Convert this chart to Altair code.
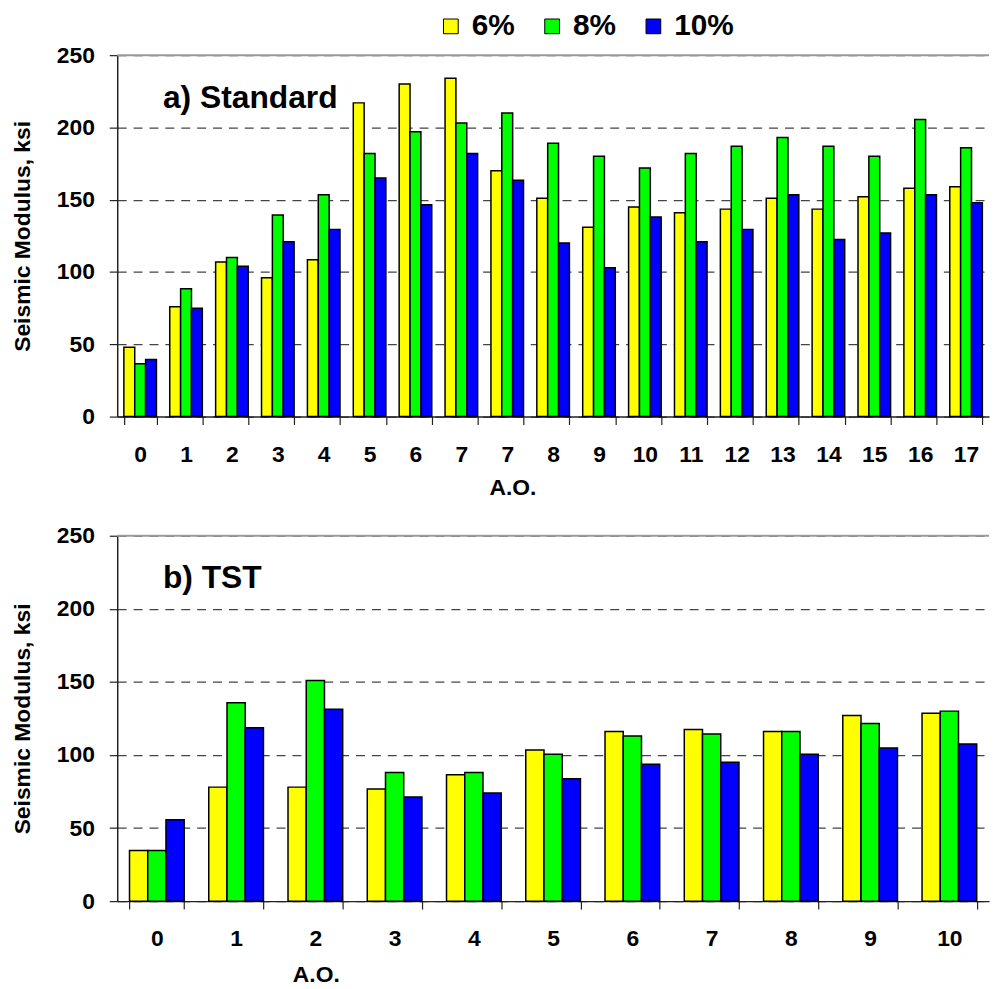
import altair as alt
import pandas as pd

FONT = "Liberation Sans"
series = ["6%", "8%", "10%"]
colors = ["#FFFF00", "#00FF00", "#0000FF"]

cats_top = ["0", "1", "2", "3", "4", "5", "6", "7", "7", "8", "9",
            "10", "11", "12", "13", "14", "15", "16", "17"]
std_6 = [48, 76, 107, 96, 108.5, 217, 230, 234, 170, 151, 131, 145, 141,
         143.5, 151, 143.5, 152, 158, 159]
std_8 = [36.5, 88.5, 110, 139.5, 153.5, 182, 197, 203, 210, 189, 180, 172,
         182, 187, 193, 187, 180, 205.5, 186]
std_10 = [39.5, 75, 104, 121, 129.5, 165, 146.5, 182, 163.5, 120, 103, 138,
          121, 129.5, 153.5, 122.5, 127, 153.5, 148]

cats_bot = ["0", "1", "2", "3", "4", "5", "6", "7", "8", "9", "10"]
tst_6 = [34.7, 78, 78, 76.7, 86.5, 103.4, 116, 117.4, 116, 127, 128.5]
tst_8 = [34.7, 135.8, 151, 88, 88, 100.5, 113, 114.4, 116, 121.5, 130]
tst_10 = [55.7, 118.7, 131.3, 71.2, 74, 83.8, 93.6, 95, 100.5, 104.8, 107.5]

y_ticks = [0, 50, 100, 150, 200, 250]


def make_df(cats, s6, s8, s10):
    rows = []
    for i, c in enumerate(cats):
        key = f"{c}_{i}"
        for s, vals in zip(series, [s6, s8, s10]):
            rows.append({"key": key, "series": s, "value": vals[i]})
    keys = [f"{c}_{i}" for i, c in enumerate(cats)]
    return pd.DataFrame(rows), keys


def panel(cats, s6, s8, s10, label, h, title_x, pad_inner, title_pad):
    df, keys = make_df(cats, s6, s8, s10)
    rule = alt.Chart(pd.DataFrame({"value": [250]})).mark_rule(
        color="#9a9a9a", strokeWidth=2
    ).encode(y=alt.Y("value:Q", scale=alt.Scale(domain=[0, 250])))
    bars = alt.Chart(df).mark_bar(stroke="black", strokeWidth=1.5).encode(
        x=alt.X("key:N", sort=keys,
                scale=alt.Scale(paddingInner=pad_inner, paddingOuter=pad_inner / 2),
                axis=alt.Axis(title="A.O.", labelExpr="split(datum.label,'_')[0]",
                              tickBand="extent", titleX=title_x, labelAngle=0,
                              grid=False, labelPadding=19, titlePadding=title_pad,
                              tickSize=8)),
        xOffset=alt.XOffset("series:N", sort=series,
                            scale=alt.Scale(domain=series, paddingInner=0, paddingOuter=0)),
        y=alt.Y("value:Q", scale=alt.Scale(domain=[0, 250]),
                axis=alt.Axis(values=y_ticks, title="Seismic Modulus, ksi",
                              grid=True, gridDash=[9, 7], gridColor="#444444",
                              gridWidth=1.2, labelPadding=15, titlePadding=22,
                              tickSize=8)),
        color=alt.Color("series:N", sort=series,
                        scale=alt.Scale(domain=series, range=colors),
                        legend=alt.Legend(title=None, orient="none", legendX=321,
                                          legendY=-44, direction="horizontal",
                                          symbolType="square", symbolSize=220,
                                          symbolStrokeColor="black",
                                          symbolStrokeWidth=1, labelFontSize=30,
                                          labelFontWeight="bold", labelFont=FONT,
                                          labelColor="black",
                                          columnPadding=22, labelOffset=6)),
    )
    text = alt.Chart(pd.DataFrame({"t": [label]})).mark_text(
        align="left", baseline="middle", fontSize=32, fontWeight="bold",
        font=FONT, color="black"
    ).encode(text="t:N", x=alt.value(46), y=alt.value(43))
    return alt.layer(rule, bars, text).properties(width=878, height=h)


top = panel(cats_top, std_6, std_8, std_10, "a) Standard", 364, 398, 0.29, 10)
bottom = panel(cats_bot, tst_6, tst_8, tst_10, "b) TST", 368, 200, 0.31, 13)

chart = alt.vconcat(top, bottom, spacing=26).resolve_scale(
    color="shared", x="independent", y="independent", xOffset="independent"
).resolve_legend(color="shared").properties(
    padding={"left": 3, "top": 0, "right": 0, "bottom": 0}
).configure(font=FONT).configure_view(strokeWidth=0).configure_axis(
    labelFont=FONT, labelFontSize=23, labelFontWeight="bold", labelColor="black",
    titleFont=FONT, titleFontSize=23, titleFontWeight="bold", titleColor="black",
    domainColor="#222222", domainWidth=1.5, tickColor="#222222", tickWidth=1.2,
)

chart.save("out.html", embed_options={"renderer": "svg", "actions": False})
